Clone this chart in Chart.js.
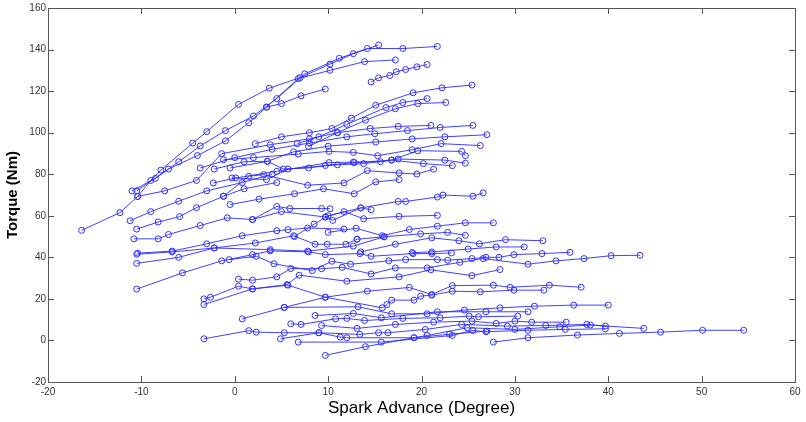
<!DOCTYPE html>
<html>
<head>
<meta charset="utf-8">
<script src="https://cdn.jsdelivr.net/npm/chart.js@4.4.0/dist/chart.umd.min.js"></script>
<style>
  body { margin: 0; background: #fff; }
  #wrap { width: 806px; height: 422px; }
</style>
</head>
<body>
<div id="wrap"><canvas id="myChart" width="806" height="422"></canvas></div>
<script>
// Tick labels
var xTicks = [-20, -10, 0, 10, 20, 30, 40, 50, 60];
var yTicks = [-20, 0, 20, 40, 60, 80, 100, 120, 140, 160];

// Spark sweeps, [spark advance, torque] pairs
var topSweeps = [
    [[-16.4,53],[-12.3,61.5],[-10.4,69.3],[-9,77],[-7.9,82],[-4.5,95],[-3,100.5],[0.4,113.6],[3.7,121.4],[7,126.5],[10.2,133],[12.7,138],[15.4,142.2]],
    [[-11,72],[-8.5,78],[-6,86],[-3.7,93.6],[-1,101],[2,108],[4.5,116.4],[7.5,128.3],[11.2,135.8],[14.2,140.5],[18,140.5],[21.7,141.5]],
    [[-10.5,72],[-7.1,82.5],[-4,89],[-1,96],[1.5,104.8],[3.4,112.3],[6.8,126],[10.2,130],[13.9,134.2],[17.2,135]],
    [[3.4,112.3],[5,114],[7.1,117.7],[9.7,121]],
    [[14.6,124.4],[15.4,126.4],[16.6,127.5],[17.3,129.3],[18.3,130.4],[19.5,131.7],[20.6,132.8]],
    [[2.2,94.7],[5,98],[8,100],[10.4,102],[12.5,107],[15.1,113.2],[19.1,119.2],[22.2,121.6],[25.4,122.9]],
    [[6.7,94.7],[9,98],[12,104],[16.2,112.1],[18,114.5],[20.6,116.4]],
    [[7.9,93.4],[11,100],[14,106],[17.2,111.5],[19.6,114],[22.6,114.5]]
];

var upperSweeps = [
    [[-10.4,69.3],[-7.5,72],[-4.1,77],[-1.4,89.9],[3.8,94.2],[8,97],[11,100],[14.5,102],[17.5,103],[21,103.5]],
    [[-3.7,83],[0,88],[4,92],[8,95],[12,98],[15,99.5],[18.5,101],[22,102.5],[25.5,103.5]],
    [[-2.2,82.5],[1,86],[3.5,86.2],[6.3,90.8],[10,93.5],[15.1,95.5],[19,97],[22.5,98],[27,99]],
    [[-1.2,87],[2,88],[6.8,89.7],[10.1,91],[12.7,90.5],[15.3,88.9],[19,91.8],[22.1,94.7],[26.3,93.8]],
    [[-0.5,83],[3.5,86.2],[5.2,82.5],[7.9,83],[9.7,84.2],[12.8,85.6],[16.8,86.8],[19.6,91.3],[24.3,91],[24.7,88.9]],
    [[-2.3,75.8],[0.1,78.2],[4.5,81.4],[10.1,85.6],[12.7,85.8],[15.6,86],[17.5,87.3],[22.5,86.8],[24.7,85.3]],
    [[-0.3,78.2],[3.4,77.4],[5.7,82.5],[11,84.5],[13.8,85.1],[16.8,86.8],[20.2,85.1],[23.3,84.1]],
    [[-1.2,69.4],[1.5,79],[3.1,79.8],[7.8,74.7],[11.7,75.8],[14.2,81.7],[17.6,80.6],[19.5,80.1],[21.3,82.4]],
    [[-0.5,65.4],[2.6,68],[6.4,70.6],[9.5,73],[12.8,70.6],[15.1,76.3],[17.6,77.4]]
];

var leftSweeps = [
    [[-11.2,57.6],[-9,62],[-6,67],[-3,72],[0.8,76],[4,80]],
    [[-10.5,53.6],[-8.2,57],[-5.9,59.6],[-4.1,63.9],[-1.2,69.4],[1,73],[4.5,76]],
    [[-10.8,48.9],[-8.2,48.9],[-7.1,51],[-3.7,55.3],[-0.8,59],[1.9,58.2],[4.5,64.5],[5.9,63.5],[9.3,63.5],[10.2,63.4]],
    [[-10.4,42],[-6.7,43],[-3,46.5],[0.8,50.4],[4.5,52.8],[5.7,53.3],[7.8,54.1],[11.7,53.6]],
    [[-10.5,41.5],[-6.7,42.6],[-2.2,44.5],[2.2,46.9],[6.3,50.4],[8.6,46.3],[9.9,46.3],[11.9,46.3],[13.1,48.7]],
    [[-10.5,37.1],[-6,40],[-2.2,44.5],[3.8,43.7],[7.8,43],[12.7,45.4],[16,49.9]]
];

var midSweeps = [
    [[6.4,50],[8.5,56],[10,60],[13.5,63.8],[17.5,66.9],[18.3,66.9],[21.7,69],[22.3,70],[25.5,69.4],[26.6,71]],
    [[9.7,59.4],[11.7,62],[13.8,58.6],[17.6,59.7],[21.7,60.2]],
    [[1.9,58.2],[5,62],[9.7,59.4],[10.5,57.8],[13.5,63.8],[14.6,62.9]],
    [[10,52],[13,54],[15.8,50.4],[18.7,53.4],[21.7,55],[24.7,56.6],[27.7,56.6]],
    [[13.1,48.7],[16,49.9],[19.9,51.3],[22.8,52],[24.7,50.6]],
    [[13.5,42.6],[17.2,46.3],[21.1,49.4],[24,48],[26.2,46.5],[29,48.5],[33,48]],
    [[19,42.3],[21.1,42.6],[25,44],[28,45],[31,45]]
];

var lowerSweeps = [
    [[-10.5,24.7],[-5.6,32.5],[-1.4,38.3],[1.9,41.3],[3.8,43.1],[7.9,42.6],[9.7,41.3],[13.4,41.8],[14.6,40.5],[19.1,41.8],[21.1,41.8],[23.2,42.1]],
    [[-0.6,38.9],[2.3,40.5],[4.2,36.9],[8.3,33.6],[10.4,38.1],[12.4,36.7],[16.5,38.3],[18.3,38.9],[21.7,38.9],[22.8,38.6],[25.4,39.4],[26.9,40],[28.3,40],[29.9,41.3],[32.9,41.8],[35.9,42.4]],
    [[0.4,29.5],[1.9,29],[4.5,30.6],[6,34.6],[9.3,34.5],[11.5,35.2],[14.6,32],[17.2,34.9],[20.6,34.9],[24.1,37.6],[26.6,39.4],[31.4,36.7],[34.4,38.3],[37.4,39.4],[40.3,40.8],[43.4,41]],
    [[-3.3,20],[-2.6,20.8],[0.4,26.1],[1.9,24.8],[5.6,26.9],[6.9,31.4],[12,28.5],[17.6,30.6],[21,34],[25.4,31.2],[28.4,34.1]],
    [[-3.3,17.3],[1.9,24.8],[5.7,26.6],[9.7,20.8],[14.2,23.7],[18.7,25.5],[21.1,22.1],[23.3,26.4],[27.7,26.6],[29.5,25.6],[33.7,26.6],[37.1,25.6]],
    [[5.3,15.9],[9.7,20.8],[15.8,15.7],[16.3,17.3],[16.8,19.4],[19.2,19.4],[19.9,21.3],[21.1,21.8],[23.3,23.7],[26.3,23.4],[29.9,24.2],[33.1,24.2]]
];

var bottomSweeps = [
    [[0.8,10.4],[5.3,15.9],[13.2,16.2],[16.8,12.8],[20.6,12.8],[24.6,14.6],[28.4,15.7],[32.1,16.5],[36.3,17],[40,17]],
    [[8.6,12],[12.7,13],[15.7,10.9],[21.7,13.8],[26.9,13.8],[31.4,13.8]],
    [[6,8],[7.1,7.7],[10.8,10.4],[12,10.6],[13.9,9.6],[18,10.6],[22,10.9],[25.1,11.7],[26.1,11.4],[30.3,11.7]],
    [[9.3,7.2],[13.1,5.8],[17.2,7.7],[21.3,8.8],[25.4,9.3],[28,8.2],[30,9.3],[31.8,8.8],[35.5,8.8]],
    [[-3.3,0.8],[1.5,4.7],[2.3,4],[5.3,3.7],[9,3.7],[13.4,2.9],[15.4,3.7],[16.4,3.7],[20.4,5.3],[24.3,7.7],[29.2,6.9],[33.3,7.2],[37.7,7.7],[39.7,6.9]],
    [[4.9,0.8],[9,3.7],[11.3,1.6],[12,1.3],[19.2,1.3],[20.6,2.4],[24.9,6.1],[30,5.3],[34.8,6.6],[38.1,7.4],[43.8,5.8]],
    [[6.8,-0.8],[15.7,-0.8],[23.3,2.4],[25.5,4.8],[26.9,4.2],[31.4,4.9],[35.4,5.3],[39.7,5.6]],
    [[9.7,-7.2],[14,-3],[19.2,1.3],[23,3],[27,4.5]],
    [[27.7,-0.8],[31.4,1.3],[36.7,2.6],[41.2,3.4],[45.6,4],[50.1,4.9],[54.5,4.9]]
];

var allSweeps = topSweeps.concat(upperSweeps, leftSweeps, midSweeps, lowerSweeps, bottomSweeps);

// MATLAB style box with inward ticks
var boxPlugin = {
    id: 'box',
    afterDraw: function(chart) {
        var ctx = chart.ctx;
        var a = chart.chartArea;
        var xs = chart.scales.x;
        var ys = chart.scales.y;
        var len = 6;
        ctx.save();
        ctx.strokeStyle = '#555';
        ctx.lineWidth = 1;
        ctx.beginPath();
        xTicks.forEach(function(v) {
            var px = Math.round(xs.getPixelForValue(v)) + 0.5;
            ctx.moveTo(px, a.bottom); ctx.lineTo(px, a.bottom - len);
            ctx.moveTo(px, a.top); ctx.lineTo(px, a.top + len);
        });
        yTicks.forEach(function(v) {
            var py = Math.round(ys.getPixelForValue(v)) + 0.5;
            ctx.moveTo(a.left, py); ctx.lineTo(a.left + len, py);
            ctx.moveTo(a.right, py); ctx.lineTo(a.right - len, py);
        });
        ctx.stroke();
        ctx.strokeRect(Math.round(a.left) + 0.5, Math.round(a.top) + 0.5,
            Math.round(a.right - a.left), Math.round(a.bottom - a.top));
        ctx.restore();
    }
};

function renderChart() {
    var ctx = document.getElementById('myChart').getContext('2d');
    var datasets = allSweeps.map(function(s) {
        return {
            data: s.map(function(p) { return {x: p[0], y: p[1]}; }),
            showLine: true,
            borderColor: '#2a2aff',
            borderWidth: 0.9,
            pointRadius: 3,
            pointBorderWidth: 1,
            pointBorderColor: '#3030ff',
            pointBackgroundColor: 'rgba(0,0,0,0)',
            tension: 0
        };
    });
    var chart = new Chart(ctx, {
        type: 'scatter',
        data: { datasets: datasets },
        plugins: [boxPlugin],
        options: {
            responsive: false,
            animation: false,
            events: [],
            layout: { padding: { top: 8, right: 11, left: 0, bottom: 0 } },
            plugins: { legend: { display: false }, tooltip: { enabled: false } },
            scales: {
                x: {
                    type: 'linear', min: -20, max: 60,
                    afterBuildTicks: function(s) { s.ticks = xTicks.map(function(v) { return {value: v}; }); },
                    afterFit: function(s) { s.height = 40; },
                    grid: { display: false, drawTicks: false },
                    border: { display: false },
                    ticks: { font: { family: 'Liberation Sans', size: 10 }, color: '#333', padding: 4, maxRotation: 0 },
                    title: { display: true, text: 'Spark Advance (Degree)', color: '#000',
                        font: { family: 'Liberation Sans', size: 17 }, padding: { top: 0, bottom: 3 } }
                },
                y: {
                    type: 'linear', min: -20, max: 160,
                    afterBuildTicks: function(s) { s.ticks = yTicks.map(function(v) { return {value: v}; }); },
                    afterFit: function(s) { s.width = 48; },
                    grid: { display: false, drawTicks: false },
                    border: { display: false },
                    ticks: { font: { family: 'Liberation Sans', size: 10 }, color: '#333', padding: 2 },
                    title: { display: true, text: 'Torque (Nm)', color: '#000',
                        font: { family: 'Liberation Sans', size: 15, weight: 'bold' }, padding: { top: 4, bottom: 0 } }
                }
            }
        }
    });
}
window.onload = renderChart;
</script>
</body>
</html>
